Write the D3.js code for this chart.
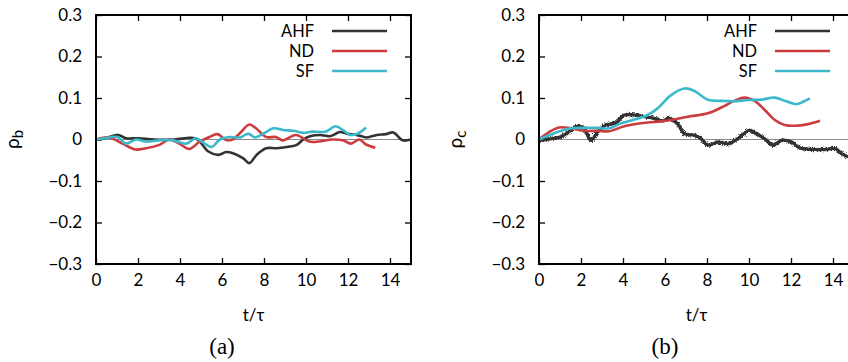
<!DOCTYPE html>
<html>
<head>
<meta charset="utf-8">
<script src="https://cdn.jsdelivr.net/npm/d3@7"></script>
<style>
  body { margin: 0; background: #fff; }
  svg { display: block; }
</style>
</head>
<body>
<div id="chart"></div>
<script>
// series, t/tau then rho
const seriesNames = ["AHF", "ND", "SF"];
const seriesColors = ["#333333", "#cc3b3d", "#3bb9cb"];

// panel (a) rho_b
const aAhfT = [0, 0.5, 1.06, 1.43, 2.0, 2.78, 3.73, 4.52, 4.84, 5.35, 5.83, 6.2, 6.52, 7.0, 7.3, 7.65, 8.1, 8.6, 9.24, 9.56, 9.87, 10.19, 10.67, 11.14, 11.62, 11.94, 12.41, 12.89, 13.37, 13.8, 14.16, 14.6, 15];
const aAhfV = [0, 0.004, 0.011, 0.003, 0.003, 0, 0, 0.004, 0, -0.029, -0.037, -0.03, -0.033, -0.045, -0.057, -0.037, -0.021, -0.021, -0.017, -0.013, 0, 0.008, 0.011, 0.008, 0.018, 0.014, 0.011, 0.005, 0.011, 0.013, 0.017, -0.002, 0];
const aNdT = [0, 0.63, 1.27, 1.86, 2.38, 3.02, 3.49, 3.97, 4.44, 4.92, 5.4, 5.79, 6.19, 6.5, 6.83, 7.3, 7.62, 8.1, 8.57, 8.89, 9.52, 10.16, 10.6, 11.27, 11.75, 12.14, 12.54, 12.86, 13.3];
const aNdV = [0, 0.005, -0.01, -0.024, -0.021, -0.013, 0, -0.01, -0.023, -0.006, 0.006, 0.013, -0.001, 0, 0.014, 0.036, 0.027, 0.006, 0.006, -0.002, 0.011, -0.005, -0.005, 0, -0.002, -0.01, 0, -0.012, -0.02];
const aSfT = [0, 0.63, 1.03, 1.43, 1.9, 2.38, 3.0, 3.65, 4.3, 4.76, 5.1, 5.5, 5.9, 6.38, 6.86, 7.25, 7.57, 7.97, 8.44, 8.9, 9.4, 9.87, 10.3, 10.95, 11.4, 11.78, 12.1, 12.49, 12.86];
const aSfV = [0, 0.005, 0.006, -0.01, 0, -0.005, -0.002, -0.002, -0.01, 0.003, -0.007, -0.018, 0, 0.006, 0.005, 0.014, 0.005, 0.014, 0.027, 0.023, 0.021, 0.016, 0.019, 0.019, 0.032, 0.022, 0.011, 0.015, 0.029];

// panel (b) rho_c
const bAhfT = [0, 0.56, 1.03, 1.51, 1.83, 2.15, 2.47, 2.79, 3.18, 3.66, 4.06, 4.54, 5.02, 5.49, 5.89, 6.21, 6.61, 6.93, 7.4, 7.72, 8.04, 8.52, 9.0, 9.47, 10.03, 10.35, 10.75, 11.15, 11.55, 12.02, 12.42, 12.98, 13.6, 14.1, 14.41, 14.76, 15];
const bAhfV = [-0.002, 0.002, 0.006, 0.022, 0.032, 0.027, -0.002, 0.018, 0.035, 0.04, 0.059, 0.059, 0.055, 0.051, 0.045, 0.051, 0.037, 0.014, 0.01, 0.002, -0.014, -0.006, -0.01, 0.002, 0.022, 0.014, 0.002, -0.014, -0.002, -0.006, -0.02, -0.024, -0.024, -0.022, -0.034, -0.042, -0.04];
const bNdT = [0, 0.48, 0.96, 1.51, 2.15, 2.79, 3.34, 4.06, 4.86, 5.65, 6.29, 7.09, 8.04, 8.68, 9.3, 9.79, 10.27, 10.75, 11.23, 11.7, 12.18, 12.82, 13.38];
const bNdV = [0, 0.018, 0.029, 0.027, 0.021, 0.021, 0.02, 0.032, 0.039, 0.043, 0.047, 0.055, 0.063, 0.077, 0.093, 0.101, 0.093, 0.071, 0.047, 0.035, 0.033, 0.037, 0.045];
const bSfT = [0, 0.88, 1.51, 2.15, 2.79, 3.34, 3.9, 4.54, 5.17, 5.65, 6.29, 6.93, 7.4, 8.04, 8.68, 9.3, 9.95, 10.59, 11.23, 11.78, 12.26, 12.58, 12.9];
const bSfV = [0, 0.018, 0.027, 0.028, 0.028, 0.027, 0.039, 0.048, 0.059, 0.075, 0.107, 0.123, 0.117, 0.096, 0.093, 0.092, 0.095, 0.096, 0.101, 0.092, 0.085, 0.091, 0.099];

const xTicks = [0, 2, 4, 6, 8, 10, 12, 14];
const yTicks = [-0.3, -0.2, -0.1, 0, 0.1, 0.2, 0.3];

const W = 848, H = 362;
const plotW = 315, plotTop = 15, plotBottom = 264;
const font = "Lato, 'Open Sans', sans-serif";
const fs = 17;

const svg = d3.select("#chart").append("svg")
    .attr("width", W)
    .attr("height", H)
    .style("font-family", font);

// rough look for the noisy AHF trace in (b)
const filt = svg.append("defs").append("filter")
    .attr("id", "noisy")
    .attr("x", "-5%").attr("y", "-40%")
    .attr("width", "110%").attr("height", "180%");
filt.append("feTurbulence")
    .attr("type", "fractalNoise")
    .attr("baseFrequency", "0.9")
    .attr("numOctaves", 1)
    .attr("seed", 5)
    .attr("result", "n");
filt.append("feDisplacementMap")
    .attr("in", "SourceGraphic")
    .attr("in2", "n")
    .attr("scale", 6)
    .attr("xChannelSelector", "R")
    .attr("yChannelSelector", "G");

function zip(t, v) { return t.map((d, i) => ({t: d, v: v[i]})); }

function drawPanel(left, sub, caption, series, noisyIdx) {
    const x = d3.scaleLinear().domain([0, 15]).range([left, left + plotW]);
    const y = d3.scaleLinear().domain([-0.3, 0.3]).range([plotBottom, plotTop]);
    const g = svg.append("g");

    // zero line
    g.append("line")
        .attr("x1", x(0)).attr("x2", x(15))
        .attr("y1", y(0)).attr("y2", y(0))
        .attr("stroke", "#8a8a8a").attr("stroke-width", 1.2);

    // inward ticks on all sides
    const bottom = d3.axisBottom(x).tickValues(xTicks).tickSize(-6).tickPadding(10)
        .tickFormat(d3.format("d"));
    const top = d3.axisTop(x).tickValues(xTicks).tickSize(-6).tickFormat("");
    const leftAx = d3.axisLeft(y).tickValues(yTicks).tickSize(-6).tickPadding(14)
        .tickFormat(d => d === 0 ? "0" : d3.format(".1f")(d));
    const rightAx = d3.axisRight(y).tickValues(yTicks).tickSize(-6).tickFormat("");

    [[bottom, `translate(0,${plotBottom})`], [top, `translate(0,${plotTop})`],
     [leftAx, `translate(${left},0)`], [rightAx, `translate(${left + plotW},0)`]]
        .forEach(([ax, tr]) => {
            const a = g.append("g").attr("transform", tr).call(ax);
            a.select(".domain").remove();
            a.selectAll(".tick line").attr("stroke", "#000").attr("stroke-width", 1.3);
            a.selectAll("text").attr("font-size", fs).attr("fill", "#000")
                .attr("font-family", font);
        });

    // lines
    const line = d3.line().x(d => x(d.t)).y(d => y(d.v)).curve(d3.curveCatmullRom.alpha(0.5));
    const clipId = "clip" + sub;
    svg.append("clipPath").attr("id", clipId).append("rect")
        .attr("x", left).attr("y", plotTop).attr("width", plotW).attr("height", plotBottom - plotTop);
    const lg = g.append("g").attr("clip-path", `url(#${clipId})`);
    series.forEach((s, i) => {
        lg.append("path")
            .datum(s)
            .attr("fill", "none")
            .attr("stroke", seriesColors[i])
            .attr("stroke-width", i === noisyIdx ? 3 : 2.6)
            .attr("stroke-linejoin", "round")
            .attr("d", line);
        if (i === noisyIdx) {
            // jagged overlay on top of a solid trace
            lg.append("path")
                .datum(s)
                .attr("fill", "none")
                .attr("stroke", seriesColors[i])
                .attr("stroke-width", 3.4)
                .attr("filter", "url(#noisy)")
                .attr("d", line);
        }
    });

    // frame
    g.append("rect")
        .attr("x", left).attr("y", plotTop)
        .attr("width", plotW).attr("height", plotBottom - plotTop)
        .attr("fill", "none").attr("stroke", "#000").attr("stroke-width", 2);

    // legend
    seriesNames.forEach((name, i) => {
        const ly = 31 + i * 20;
        g.append("text")
            .attr("x", left + 218).attr("y", ly)
            .attr("dy", "0.36em")
            .attr("text-anchor", "end")
            .attr("font-size", 16.4)
            .text(name);
        g.append("line")
            .attr("x1", left + 236).attr("x2", left + 291)
            .attr("y1", ly).attr("y2", ly)
            .attr("stroke", seriesColors[i]).attr("stroke-width", 2.6);
    });

    // axis titles
    const yl = g.append("text")
        .attr("transform", `translate(${left - 77},${y(0)}) rotate(-90)`)
        .attr("text-anchor", "middle")
        .attr("font-size", 19);
    yl.append("tspan").text("ρ");
    yl.append("tspan").attr("font-size", 15).attr("dy", 4).text(sub);

    g.append("text")
        .attr("x", left + plotW / 2).attr("y", 321)
        .attr("text-anchor", "middle")
        .attr("font-size", fs)
        .text("t/τ");

    g.append("text")
        .attr("x", left + 126).attr("y", 354)
        .attr("text-anchor", "middle")
        .attr("font-family", "'Liberation Serif', serif")
        .attr("font-size", 23)
        .text(caption);
}

drawPanel(96, "b", "(a)", [zip(aAhfT, aAhfV), zip(aNdT, aNdV), zip(aSfT, aSfV)], -1);
drawPanel(539, "c", "(b)", [zip(bAhfT, bAhfV), zip(bNdT, bNdV), zip(bSfT, bSfV)], 0);
</script>
</body>
</html>
